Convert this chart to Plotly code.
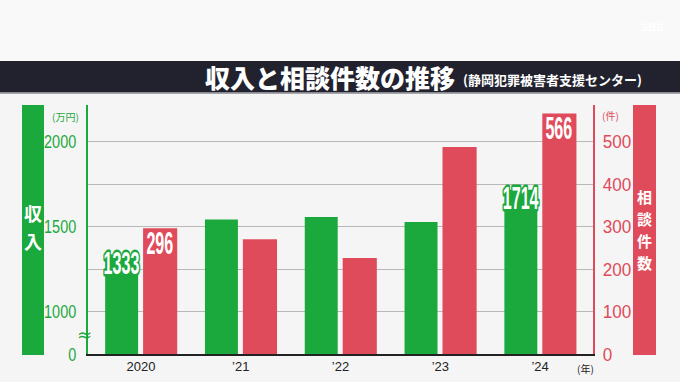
import plotly.graph_objects as go

years = ["2020", "’21", "’22", "’23", "’24"]
income = [1333, 1539, 1553, 1524, 1714]      # 万円
consults = [296, 270, 226, 487, 566]          # 件
labelled = [0, 4]                             # years whose values are printed
income_ticks = [1000, 1500, 2000]
consult_ticks = [0, 100, 200, 300, 400, 500]

GREEN = "#1ba83d"
RED = "#e04b5b"
BG = "#f5f5f5"
NUM = "Liberation Sans, Arial, sans-serif"
JP = "Noto Sans CJK JP, sans-serif"

W, H = 680, 382
L, R, T, B = 88, 593, 105, 354
def px(x):
    return (x - L) / (R - L)
def py(y):
    return (B - y) / (B - T)

y_lo, y_hi = 747, 2212          # left axis with a break: 0 at bottom, linear above 1000
xs = list(range(len(years)))

fig = go.Figure()
fig.add_trace(go.Bar(x=xs, y=income, yaxis="y", marker=dict(color=GREEN, line=dict(width=0)),
                     offset=-0.358, width=0.33, showlegend=False, hoverinfo="skip"))
fig.add_trace(go.Bar(x=xs, y=consults, yaxis="y2", marker=dict(color=RED, line=dict(width=0)),
                     offset=0.022, width=0.342, showlegend=False, hoverinfo="skip"))

annotations = []
for i in labelled:
    annotations.append(dict(x=i - 0.193, y=income[i], xref="x", yref="y", text=str(income[i]),
                            showarrow=False, yanchor="middle", yshift=-9,
                            font=dict(family=NUM, size=31, color=GREEN, weight="bold")))
    annotations.append(dict(x=i + 0.193, y=consults[i], xref="x", yref="y2", text=str(consults[i]),
                            showarrow=False, yanchor="middle", yshift=-15,
                            font=dict(family=NUM, size=31, color=RED, weight="bold")))

def note(x, y, text, size, color, xanchor="center", weight="normal", family=JP):
    return dict(x=px(x), y=py(y), xref="paper", yref="paper", text=text, showarrow=False,
                xanchor=xanchor, yanchor="middle",
                font=dict(family=family, size=size, color=color, weight=weight))

annotations += [
    note(81, 116, "(万円)", 10, GREEN, "right"),
    note(600, 115, "(件)", 10, RED, "left"),
    note(596, 368, "(年)", 10, "#222", "right"),
    note(84, 334, "≈", 18, GREEN, family="DejaVu Sans"),
    note(457, 77, "収入と相談件数の推移", 25, "white", "right", 900),
    note(461, 79, "(静岡犯罪被害者支援センター)", 13, "white", "left", "bold"),
    note(652, 27, "SBS", 11, "#ffffff", weight="bold", family="Liberation Sans"),
]
for ch, yc in zip("収入", [213, 241]):
    annotations.append(note(33, yc, ch, 18, "white", weight="bold"))
for ch, yc in zip("相談件数", [196, 218, 240, 262]):
    annotations.append(note(644.5, yc, ch, 15, "white", weight="bold"))

shapes = [
    dict(type="rect", xref="paper", yref="paper", x0=px(0), x1=px(W), y0=py(0), y1=py(61),
         fillcolor="#f9f9f9", line=dict(width=0), layer="below"),
    dict(type="rect", xref="paper", yref="paper", x0=px(0), x1=px(W), y0=py(61), y1=py(92.5),
         fillcolor="#22222e", line=dict(width=0)),
    dict(type="line", xref="paper", yref="paper", x0=px(0), x1=px(W), y0=py(93), y1=py(93),
         line=dict(color="#8a8a92", width=1.5)),
    dict(type="rect", xref="paper", yref="paper", x0=px(22), x1=px(44), y0=py(105), y1=py(355),
         fillcolor=GREEN, line=dict(width=0)),
    dict(type="rect", xref="paper", yref="paper", x0=px(633), x1=px(656), y0=py(105), y1=py(355),
         fillcolor=RED, line=dict(width=0)),
]

fig.update_layout(
    width=W, height=H,
    margin=dict(l=L, r=W - R, t=T, b=H - B, autoexpand=False),
    paper_bgcolor=BG, plot_bgcolor=BG,
    barmode="overlay",
    showlegend=False,
    xaxis=dict(range=[-0.53, 4.53], tickvals=xs, ticktext=years, showgrid=False, zeroline=False,
               showline=True, linecolor="#222", linewidth=1.5, ticks="", automargin=False,
               tickfont=dict(family="Liberation Sans, sans-serif", size=13, color="#222")),
    yaxis=dict(range=[y_lo, y_hi], tickvals=[y_lo] + income_ticks,
               ticktext=["0"] + [str(t) for t in income_ticks],
               showgrid=False, zeroline=False, showline=True, linecolor=GREEN, linewidth=2,
               ticks="", ticklabelstandoff=6, automargin=False,
               tickfont=dict(family=NUM, size=19, color=GREEN)),
    yaxis2=dict(range=[0, 586], overlaying="y", side="right", tickvals=consult_ticks,
                ticktext=[str(t) for t in consult_ticks],
                showgrid=True, gridcolor="#b8b8b8", gridwidth=1, zeroline=False,
                showline=True, linecolor=RED, linewidth=2, ticks="", ticklabelstandoff=4,
                automargin=False,
                tickfont=dict(family=NUM, size=19, color=RED)),
    annotations=annotations,
    shapes=shapes,
)

post = """
var gd = document.getElementById('{plot_id}');
document.documentElement.style.margin='0';
document.body.style.margin='0';
document.body.style.padding='0';
function squeeze(el, sx){
  var a = el.getAttribute('text-anchor') || 'start';
  var bb = el.getBBox();
  var cx = a==='middle' ? bb.x+bb.width/2 : (a==='end' ? bb.x+bb.width : bb.x);
  var t = el.getAttribute('transform') || '';
  el.setAttribute('transform', t+' translate('+cx+' 0) scale('+sx+' 1) translate('+(-cx)+' 0)');
}
gd.querySelectorAll('.ytick text').forEach(function(el){squeeze(el,0.76);});
gd.querySelectorAll('.y2tick text').forEach(function(el){squeeze(el,0.9);});
gd.querySelectorAll('.annotation-text').forEach(function(el){
  if(/^[0-9]+$/.test(el.textContent)){
    var c = el.style.fill;
    el.style.stroke = c; el.style.strokeWidth='5px'; el.style.paintOrder='stroke';
    el.style.strokeLinejoin='round';
    el.style.fill = '#ffffff';
    squeeze(el, 0.52);
  }
});
"""

fig.write_html("out.html", post_script=post, config={"displayModeBar": False})
